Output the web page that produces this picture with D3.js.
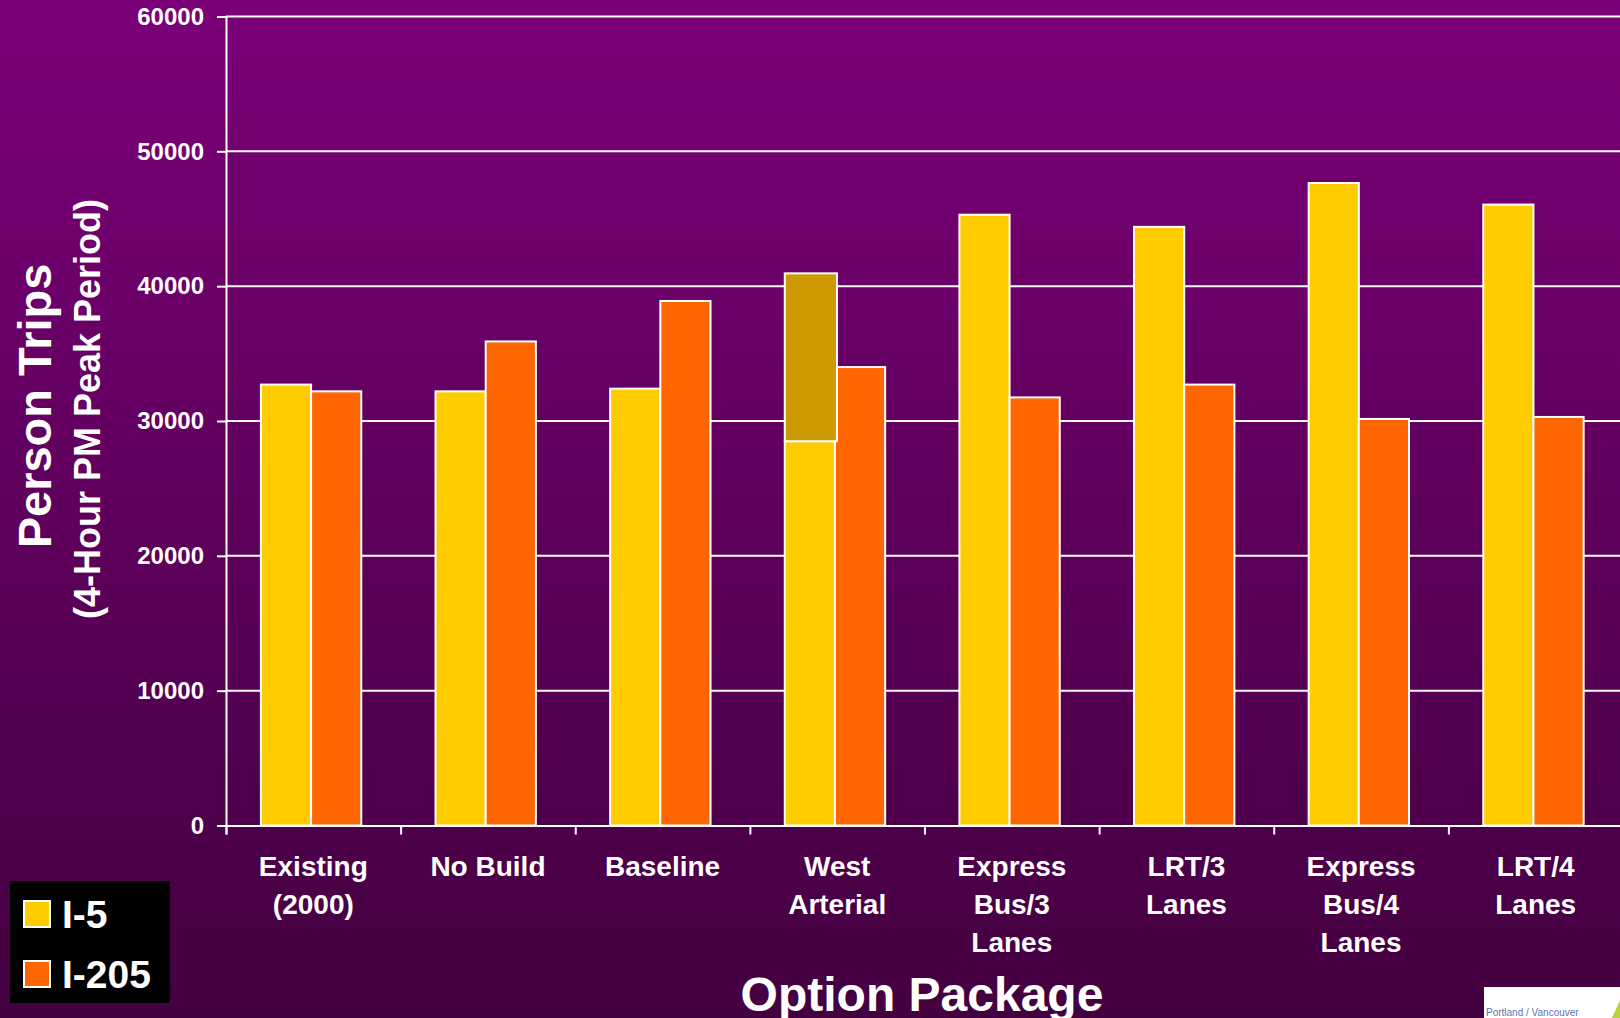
<!DOCTYPE html>
<html>
<head>
  <script src="https://d3js.org/d3.v7.min.js"></script>
  <title>Person Trips by Option Package</title>
  <style>
  body { margin: 0; background: #450042; }
  svg text { font-family: Arial, "Liberation Sans", Helvetica, sans-serif; font-weight: bold; fill: white; }
  </style>
</head>
<body>
<svg id="chart" width="1620" height="1018"></svg>
<script>
// categories (label lines split on \n)
var categories = ["Existing\n(2000)", "No Build", "Baseline", "West\nArterial",
                  "Express\nBus/3\nLanes", "LRT/3\nLanes", "Express\nBus/4\nLanes", "LRT/4\nLanes"];
var seriesNames = ["I-5", "I-205"];
var i5Values   = [32700, 32200, 32400, 28500, 45300, 44400, 47650, 46050];
var i5Added    = [0, 0, 0, 12450, 0, 0, 0, 0];   // darker stacked part on West Arterial
var i205Values = [32200, 35900, 38900, 34000, 31750, 32700, 30150, 30300];
var yTicks = [0, 10000, 20000, 30000, 40000, 50000, 60000];

var colors = { "I-5": "#ffcc00", "I-205": "#ff6600", added: "#cc9900" };

var svg = d3.select("#chart");
var W = 1620, H = 1018;
var plotLeft = 226, plotRight = 1623, plotTop = 16.5, plotBottom = 825.5;

// background gradient
var defs = svg.append("defs");
var grad = defs.append("linearGradient").attr("id", "bg")
  .attr("x1", 0).attr("y1", 0).attr("x2", 0).attr("y2", 1);
grad.append("stop").attr("offset", "0%").attr("stop-color", "#7b0079");
grad.append("stop").attr("offset", "100%").attr("stop-color", "#430040");
svg.append("rect").attr("width", W).attr("height", H).attr("fill", "url(#bg)");

var x = d3.scaleBand().domain(categories).range([plotLeft, plotRight]);
var xs = d3.scaleBand().domain(seriesNames).range([0, x.bandwidth()]).paddingOuter(0.74).align(0.47);
var y = d3.scaleLinear().domain([0, 60000]).range([plotBottom, plotTop]);

// gridlines
svg.append("g").selectAll("line").data(yTicks.slice(1)).enter().append("line")
  .attr("x1", plotLeft).attr("x2", W)
  .attr("y1", function(d){ return y(d); }).attr("y2", function(d){ return y(d); })
  .attr("stroke", "white").attr("stroke-width", 2);

// bars
var rows = categories.map(function(c, i){
  return { cat: c, "I-5": i5Values[i], "I-205": i205Values[i], added: i5Added[i] };
});
var groups = svg.append("g").selectAll("g").data(rows).enter().append("g")
  .attr("transform", function(d){ return "translate(" + x(d.cat) + ",0)"; });

groups.selectAll("rect.bar").data(function(d){
    return seriesNames.map(function(s){ return { key: s, value: d[s] }; });
  }).enter().append("rect").attr("class", "bar")
  .attr("x", function(d){ return xs(d.key); })
  .attr("width", xs.bandwidth())
  .attr("y", function(d){ return y(d.value); })
  .attr("height", function(d){ return y(0) - y(d.value); })
  .attr("fill", function(d){ return colors[d.key]; })
  .attr("stroke", "white").attr("stroke-width", 2);

groups.filter(function(d){ return d.added > 0; }).append("rect")
  .attr("x", xs("I-5"))
  .attr("width", xs.bandwidth() + 2)
  .attr("y", function(d){ return y(d["I-5"] + d.added); })
  .attr("height", function(d){ return y(d["I-5"]) - y(d["I-5"] + d.added); })
  .attr("fill", colors.added)
  .attr("stroke", "white").attr("stroke-width", 2);

// y axis
var yAxis = svg.append("g").attr("transform", "translate(" + plotLeft + ",0)")
  .call(d3.axisLeft(y).tickValues(yTicks).tickSize(9).tickPadding(13).tickFormat(d3.format("d")));
yAxis.select(".domain").attr("stroke", "white").attr("stroke-width", 2);
yAxis.selectAll(".tick line").attr("stroke", "white").attr("stroke-width", 2);
yAxis.selectAll(".tick text").style("font-size", "24px").attr("fill", "white");

// x axis (ticks on category boundaries)
var xb = d3.scaleLinear().domain([0, categories.length]).range([plotLeft, plotRight]);
var xAxis = svg.append("g").attr("transform", "translate(0," + plotBottom + ")")
  .call(d3.axisBottom(xb).ticks(categories.length).tickSize(9).tickFormat(""));
xAxis.select(".domain").attr("stroke", "white").attr("stroke-width", 2);
xAxis.selectAll(".tick line").attr("stroke", "white").attr("stroke-width", 2);

// category labels
svg.append("g").selectAll("text").data(categories).enter().append("text")
  .attr("text-anchor", "middle")
  .style("font-size", "28px")
  .attr("transform", function(d){ return "translate(" + (x(d) + x.bandwidth() / 2) + ",876)"; })
  .each(function(d){
    var t = d3.select(this);
    d.split("\n").forEach(function(line, i){
      t.append("tspan").attr("x", 0).attr("y", i * 38).text(line);
    });
  });

// axis titles
svg.append("text").attr("text-anchor", "middle").style("font-size", "47px")
  .attr("transform", "translate(51,406) rotate(-90)").text("Person Trips");
svg.append("text").attr("text-anchor", "middle").style("font-size", "36px")
  .attr("transform", "translate(100,409) rotate(-90)").text("(4-Hour PM Peak Period)");
svg.append("text").attr("text-anchor", "middle").style("font-size", "48px")
  .attr("x", 922).attr("y", 1011).text("Option Package");

// legend
var legend = svg.append("g");
legend.append("rect").attr("x", 10).attr("y", 881).attr("width", 160).attr("height", 122).attr("fill", "black");
legend.selectAll("g").data(seriesNames).enter().append("g")
  .attr("transform", function(d, i){ return "translate(0," + (i * 60) + ")"; })
  .each(function(d){
    var g = d3.select(this);
    g.append("rect").attr("x", 24).attr("y", 901).attr("width", 26).attr("height", 26)
      .attr("fill", colors[d]).attr("stroke", "white").attr("stroke-width", 2);
    g.append("text").attr("x", 62).attr("y", 928).style("font-size", "39px").text(d);
  });

// logo corner
svg.append("rect").attr("x", 1484).attr("y", 987).attr("width", 136).attr("height", 31).attr("fill", "white");
svg.append("text").attr("x", 1486).attr("y", 1016).style("font-size", "10px").style("font-weight", "normal")
  .style("fill", "#5a76b0").text("Portland / Vancouver");
svg.append("path").attr("d", "M1612,1018 L1620,1000 L1620,1018 Z").attr("fill", "#b8d43a");
</script>
</body>
</html>
